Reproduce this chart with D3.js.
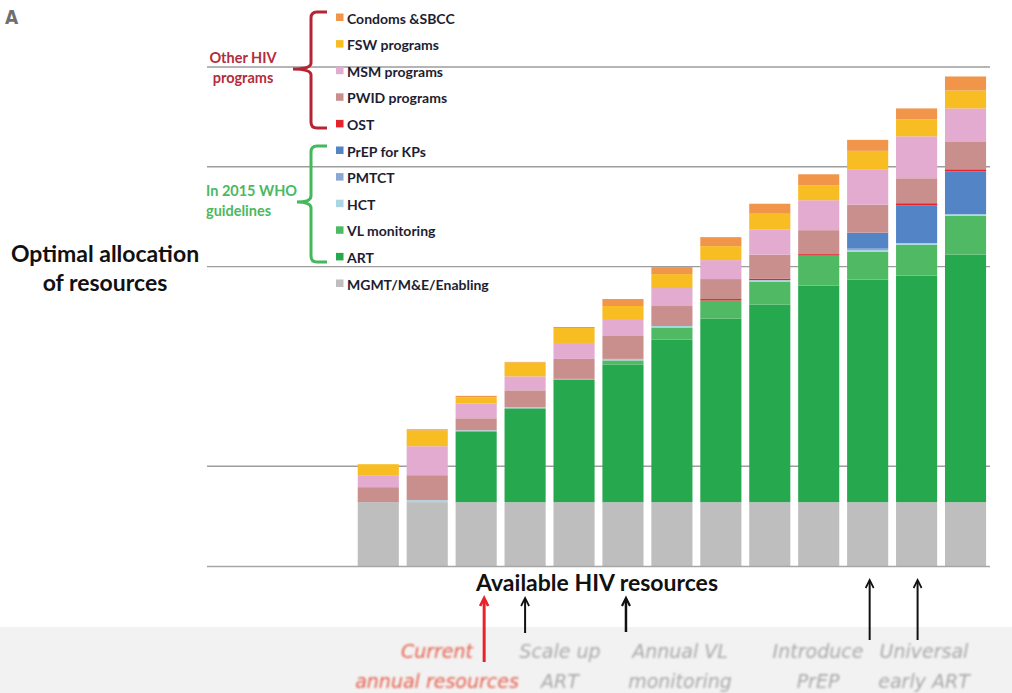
<!DOCTYPE html>
<html>
<head>
<meta charset="utf-8">
<script src="https://cdn.jsdelivr.net/npm/d3@7"></script>
<style>
  body { margin: 0; background: #fff; }
  svg { display: block; }
</style>
</head>
<body>
<svg id="chart"></svg>
<script>
// budget scenarios, lowest to highest (13 stacked bars)
const budgets = ["S1","S2","S3","S4","S5","S6","S7","S8","S9","S10","S11","S12","S13"];
const emptySlots = ["e1","e2","e3"];

// spending per programme area (chart units)
const mgmt    = [64,64,64,64,64,64,64,64,64,64,64,64,64];
const art     = [0,0,71,94,123,138,163,184,198,217,223,227,248];
const vl      = [0,0,0,0,0,4,12,18,23,30,28,31,39];
const hct     = [0,2,1,1,0.5,1,1.5,0,1.5,0,1.5,1.5,1.5];
const pmtct   = [0,0,0,0,0,0.5,0,0,0,0,1.5,0,0];
const prep    = [0,0,0,0,0,0,0,0,0,0,16,38,43];
const ost     = [0,0,0,0,0,0,0,1.5,1.5,1.5,0,2,2];
const pwid    = [15,25,12,17,20,23,20,20,24,24,28,25,28];
const msm     = [12,29,15,14,16,17,18,19,25,30,35,42,33];
const fsw     = [11,16,6,14,15,13,14,14,16,15,19,17,18];
const condoms = [0,1,1.5,0.5,1,7,7,9,10,11,11,11,14];

// bottom to top
const seriesKeys   = ["mgmt","art","vl","hct","pmtct","prep","ost","pwid","msm","fsw","condoms"];
const seriesData   = {mgmt, art, vl, hct, pmtct, prep, ost, pwid, msm, fsw, condoms};
const seriesColors = ["#bebebe","#26a84f","#4fba63","#a9d6e2","#8aa7d6","#5284c6","#e8222b","#c98f8d","#e2abcf","#f7bd22","#f0954a"];
const seriesLabels = ["MGMT/M&E/Enabling","ART","VL monitoring","HCT","PMTCT","PrEP for KPs","OST","PWID programs","MSM programs","FSW programs","Condoms &SBCC"];

const gridValues = [100,300,400,500];

const W = 1012, H = 693;
const svg = d3.select("#chart").attr("width", W).attr("height", H);

const x = d3.scaleBand()
    .domain([...emptySlots, ...budgets])
    .range([207, 990])
    .paddingInner(0.16)
    .paddingOuter(0.08);

const y = d3.scaleLinear().domain([0, 500]).range([566, 67]);

//gridlines
svg.append("g").selectAll("line")
    .data(gridValues)
    .enter().append("line")
      .attr("x1", 207).attr("x2", 990)
      .attr("y1", d => y(d)).attr("y2", d => y(d))
      .style("stroke", "#9d9d9d").style("stroke-width", 1.4);

//stacked bars
const rows = budgets.map((b, i) => {
    const r = {budget: b};
    seriesKeys.forEach(k => r[k] = seriesData[k][i]);
    return r;
});
const stacked = d3.stack().keys(seriesKeys)(rows);

svg.append("g").selectAll("g")
    .data(stacked)
    .enter().append("g")
      .style("fill", (d, i) => seriesColors[i])
    .selectAll("rect")
    .data(d => d)
    .enter().append("rect")
      .attr("x", d => x(d.data.budget))
      .attr("width", x.bandwidth())
      .attr("y", d => y(d[1]))
      .attr("height", d => Math.max(0, y(d[0]) - y(d[1])));

//baseline
svg.append("line")
    .attr("x1", 207).attr("x2", 990)
    .attr("y1", y(0) + 0.5).attr("y2", y(0) + 0.5)
    .style("stroke", "#a6a6a6").style("stroke-width", 1.4);

//legend, top to bottom
const legendOrder = d3.range(seriesKeys.length).reverse();
const ly = d3.scalePoint().domain(legendOrder).range([18, 284]);
const legend = svg.append("g").selectAll("g")
    .data(legendOrder)
    .enter().append("g")
      .attr("transform", d => "translate(336," + ly(d) + ")");
legend.append("rect")
    .attr("x", 0).attr("y", -4.5).attr("width", 7.5).attr("height", 7.5)
    .style("fill", d => seriesColors[d]);
legend.append("text")
    .attr("x", 11).attr("y", 5.5)
    .style("font-family", "Lato, sans-serif").style("font-weight", "bold")
    .style("font-size", "14px").style("fill", "#1d1d33")
    .text(d => seriesLabels[d]);

//braces
function brace(top, mid, bottom, tipX) {
    const xv = 311, xe = 327, r = 6;
    return "M" + xe + "," + top + " H" + (xv + r) + " Q" + xv + "," + top + " " + xv + "," + (top + r)
        + " V" + (mid - r) + " Q" + xv + "," + mid + " " + tipX + "," + mid
        + " Q" + xv + "," + mid + " " + xv + "," + (mid + r)
        + " V" + (bottom - r) + " Q" + xv + "," + bottom + " " + (xv + r) + "," + bottom + " H" + xe;
}
svg.append("path").attr("d", brace(12, 69, 128, 293))
    .style("fill", "none").style("stroke", "#b52433").style("stroke-width", 3);
svg.append("path").attr("d", brace(146, 202, 262, 297))
    .style("fill", "none").style("stroke", "#45b85c").style("stroke-width", 3);

const groupText = [
  {t: "Other HIV", x: 243, y: 63, c: "#b52c3c", a: "middle"},
  {t: "programs", x: 243, y: 83, c: "#b52c3c", a: "middle"},
  {t: "In 2015 WHO", x: 206, y: 196, c: "#4cb860", a: "start"},
  {t: "guidelines", x: 206, y: 216, c: "#4cb860", a: "start"}
];
svg.append("g").selectAll("text")
    .data(groupText)
    .enter().append("text")
      .attr("x", d => d.x).attr("y", d => d.y)
      .attr("text-anchor", d => d.a)
      .style("font-family", "Lato, sans-serif").style("font-weight", "bold")
      .style("font-size", "14.5px").style("fill", d => d.c)
      .text(d => d.t);

//panel letter
svg.append("text")
    .attr("x", 5).attr("y", 24)
    .style("font-family", "'DejaVu Sans Condensed', 'DejaVu Sans', sans-serif").style("font-weight", "bold")
    .style("font-size", "19px").style("fill", "#6f6f6f")
    .text("A");

//axis titles
svg.append("g").selectAll("text")
    .data(["Optimal allocation", "of resources"])
    .enter().append("text")
      .attr("x", 105).attr("y", (d, i) => 262 + i * 29)
      .attr("text-anchor", "middle")
      .style("font-family", "Lato, sans-serif").style("font-weight", "bold")
      .style("font-size", "23px").style("fill", "#111")
      .text(d => d);

svg.append("text")
    .attr("x", 597).attr("y", 591)
    .attr("text-anchor", "middle")
    .style("font-family", "Lato, sans-serif").style("font-weight", "bold")
    .style("font-size", "23px").style("fill", "#111")
    .text("Available HIV resources");

//faded annotation band
svg.append("rect").attr("x", 0).attr("y", 627).attr("width", W).attr("height", H - 627)
    .style("fill", "#f2f2f2");

const defs = svg.append("defs");
defs.append("filter").attr("id", "soft")
    .append("feGaussianBlur").attr("stdDeviation", 0.8);

const notes = [
  {l1: "Current", l2: "annual resources", x: 437, c: "#e5604e"},
  {l1: "Scale up", l2: "ART", x: 560, c: "#a9a9a9"},
  {l1: "Annual VL", l2: "monitoring", x: 680, c: "#a9a9a9"},
  {l1: "Introduce", l2: "PrEP", x: 818, c: "#a9a9a9"},
  {l1: "Universal", l2: "early ART", x: 924, c: "#a9a9a9"}
];
const noteG = svg.append("g").attr("filter", "url(#soft)").selectAll("g")
    .data(notes).enter().append("g");
noteG.append("text").attr("x", d => d.x).attr("y", 658).text(d => d.l1);
noteG.append("text").attr("x", d => d.x).attr("y", 688).text(d => d.l2);
noteG.selectAll("text")
    .attr("text-anchor", "middle")
    .style("font-family", "'DejaVu Sans', sans-serif").style("font-style", "italic")
    .style("font-size", "19px")
    .style("fill", function() { return d3.select(this.parentNode).datum().c; });

//arrows pointing at budget scenarios
const arrows = [
  {b: "S3", dx: 8, top: 598, bottom: 662, c: "#e8222b", w: 3},
  {b: "S4", dx: 0, top: 598, bottom: 633, c: "#111", w: 2},
  {b: "S6", dx: 3, top: 598, bottom: 632, c: "#111", w: 2.5},
  {b: "S11", dx: 2, top: 580, bottom: 640, c: "#111", w: 2},
  {b: "S12", dx: 1, top: 580, bottom: 640, c: "#111", w: 2}
];
const arr = svg.append("g").selectAll("g").data(arrows).enter().append("g")
    .attr("transform", d => "translate(" + (x(d.b) + x.bandwidth() / 2 + d.dx) + ",0)");
arr.append("line")
    .attr("x1", 0).attr("x2", 0)
    .attr("y1", d => d.top + 1).attr("y2", d => d.bottom)
    .style("stroke", d => d.c).style("stroke-width", d => d.w);
arr.append("path")
    .attr("d", d => "M-4," + (d.top + 8) + " L0," + d.top + " L4," + (d.top + 8))
    .style("fill", "none").style("stroke", d => d.c).style("stroke-width", d => d.w - 0.3);
</script>
</body>
</html>
